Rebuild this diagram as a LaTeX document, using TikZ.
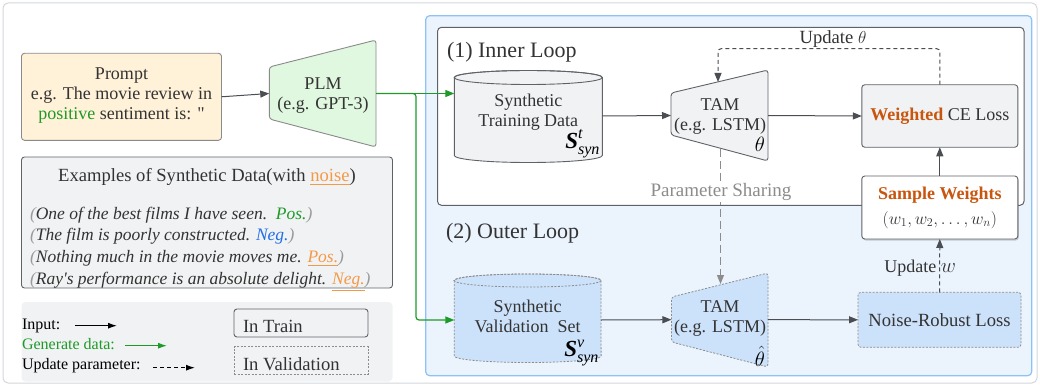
\documentclass[tikz,border=0pt]{standalone}
\usepackage{amsmath}
\usepackage{fontspec}
\setmainfont{Liberation Serif}
\newfontfamily\nomap{Liberation Serif}
\usetikzlibrary{arrows.meta,shadows}

\definecolor{txt}{HTML}{333333}
\definecolor{linegray}{HTML}{4A4D52}
\definecolor{boxborder}{HTML}{5F6368}
\definecolor{promptfill}{HTML}{FFF2D9}
\definecolor{promptborder}{HTML}{8A8A8A}
\definecolor{plmfill}{HTML}{E0F7E0}
\definecolor{grayfill}{HTML}{F1F2F4}
\definecolor{outerborder}{HTML}{D3D7DC}
\definecolor{blueframe}{HTML}{8DC2F6}
\definecolor{bluefill}{HTML}{EBF3FD}
\definecolor{valfill}{HTML}{CCE1FA}
\definecolor{valborder}{HTML}{8C8C8C}
\definecolor{gcol}{HTML}{1E9A28}
\definecolor{ocolD}{HTML}{C9560F}
\definecolor{ocolL}{HTML}{F39A48}
\definecolor{bcol}{HTML}{1F6FE5}
\definecolor{pgray}{HTML}{8C8C8C}
\definecolor{pargray}{HTML}{9A9A9A}

\newcommand{\synset}[1]{$\textbf{\textit{S}}^{\textit{#1}}_{\textit{syn}}$}

\begin{document}
\begin{tikzpicture}[x=1pt,y=-1pt,
  every node/.style={text=txt, inner sep=0pt, outer sep=0pt},
  f18/.style={font=\fontsize{18}{20}\selectfont},
  f16/.style={font=\fontsize{16}{18}\selectfont},
  f21/.style={font=\fontsize{22}{24}\selectfont},
  fit17/.style={font=\fontsize{17.5}{20}\selectfont\itshape},
  solidbox/.style={draw=boxborder, line width=0.9pt, rounded corners=3pt, fill=grayfill},
  valbox/.style={draw=valborder, line width=0.8pt, dash pattern=on 2pt off 1.5pt, rounded corners=3pt, fill=valfill},
  conn/.style={draw=linegray, line width=1pt, -{Triangle[length=9pt,width=7pt]}},
  gconn/.style={draw=gcol, line width=1.2pt, rounded corners=3pt, -{Triangle[length=9pt,width=7pt]}},
  upd/.style={draw=linegray, line width=1pt, dash pattern=on 4pt off 3pt, rounded corners=3pt, -{Triangle[length=9pt,width=7pt]}},
  psh/.style={draw=pgray, line width=1pt, dash pattern=on 8pt off 4pt, -{Triangle[length=9pt,width=7pt]}},
  legarr/.style={draw=black, line width=1.1pt, -{Latex[length=9pt,width=6pt]}},
]
\useasboundingbox (0,0) rectangle (1040,385);

% outer frame
\node[draw=outerborder, line width=1pt, rounded corners=5pt, minimum width=1034, minimum height=380, anchor=north west] (frame) at (3,3) {};

% blue outer loop region
\node[draw=blueframe, fill=bluefill, line width=1.2pt, rounded corners=4pt, minimum width=606, minimum height=360, anchor=north west] (outer) at (425.7,15.7) {};
% inner loop box
\node[draw=boxborder, fill=white, line width=1pt, rounded corners=4pt, minimum width=586.5, minimum height=178, anchor=north west] (inner) at (437.5,27.3) {};
\node[f21, anchor=base west] (innerlbl) at (447,57.3) {(1) Inner Loop};
\node[f21, anchor=base west] (outerlbl) at (446,238.3) {(2) Outer Loop};

% prompt
\node[draw=promptborder, fill=promptfill, line width=0.9pt, rounded corners=3pt, minimum width=200, minimum height=87, anchor=north west] (prompt) at (21.5,53.3) {};
\node[f18, align=center] (prompttxt) at (121.5,96) {Prompt\\e.g. The movie review in\\\textcolor{gcol}{positive} sentiment is: {\nomap "}};

% PLM
\filldraw[draw=promptborder, fill=plmfill, line width=0.9pt, rounded corners=3pt] (269.3,67) -- (376,40) -- (376,147) -- (269.3,119) -- cycle;
\node[minimum width=106.7, minimum height=107] (plm) at (322.65,93.5) {};
\node[f18, align=center] (plmtxt) at (323,96) {PLM\\(e.g. GPT-3)};

% examples box
\node[solidbox, minimum width=371, minimum height=131, anchor=north west] (examples) at (21.5,157) {};
\node[font=\fontsize{18.6}{20}\selectfont, anchor=base] (extitle) at (207,181.7) {Examples of Synthetic Data(with \textcolor{ocolL}{\underline{noise}})};
\node[fit17, anchor=base west] (ex1) at (30,219) {\textcolor{pargray}{(}One of the best films I have seen.~~\textcolor{gcol}{Pos.}\textcolor{pargray}{)}};
\node[fit17, anchor=base west] (ex2) at (30,240.7) {\textcolor{pargray}{(}The film is poorly constructed. \textcolor{bcol}{Neg.}\textcolor{pargray}{)}};
\node[fit17, anchor=base west] (ex3) at (30,262.4) {\textcolor{pargray}{(}Nothing much in the movie moves me. \textcolor{ocolL}{\underline{Pos.}}\textcolor{pargray}{)}};
\node[fit17, anchor=base west] (ex4) at (30,284.1) {\textcolor{pargray}{(}Ray{\nomap\itshape '}s performance is an absolute delight. \textcolor{ocolL}{\underline{Neg.}}\textcolor{pargray}{)}};

% legend
\node[fill=grayfill, rounded corners=4pt, minimum width=371, minimum height=79.5, anchor=north west] (legend) at (21.5,302) {};
\node[f16, anchor=base west, text=black] (linput) at (22,329) {Input:};
\node[f16, anchor=base west, text=gcol] (lgen) at (22,349) {Generate data:};
\node[f16, anchor=base west, text=black] (lupd) at (22,369.5) {Update parameter:};
\coordinate (la1) at (75,325.7); \coordinate (la2) at (117,325.7);
\coordinate (lb1) at (125,345.7); \coordinate (lb2) at (167,345.7);
\coordinate (lc1) at (153,367.7); \coordinate (lc2) at (195,367.7);
\draw[legarr] (la1) -- (la2);
\draw[legarr, draw=gcol] (lb1) -- (lb2);
\draw[legarr, dash pattern=on 4pt off 3pt] (lc1) -- (lc2);
\node[draw=boxborder, line width=0.9pt, rounded corners=3pt, minimum width=134, minimum height=28, anchor=north west] (intrain) at (234,309) {};
\node[font=\fontsize{18.6}{20}\selectfont, anchor=base west] (intraintxt) at (243,332.7) {In Train};
\node[draw=valborder, line width=0.8pt, dash pattern=on 2pt off 1.5pt, minimum width=134, minimum height=27.5, anchor=north west] (inval) at (234,346.7) {};
\node[font=\fontsize{18.6}{20}\selectfont, anchor=base west] (invaltxt) at (243,370) {In Validation};

% cylinder 1 : synthetic training data
\filldraw[draw=boxborder, fill=grayfill, line width=0.9pt] (454.3,77.5) -- (454.3,155.5) arc[start angle=180,end angle=0,x radius=74,y radius=7] -- (602.3,77.5) arc[start angle=0,end angle=-180,x radius=74,y radius=7] -- cycle;
\draw[draw=boxborder, line width=0.9pt] (528.3,77.5) ellipse[x radius=74, y radius=7];
\node[minimum width=148, minimum height=92] (train) at (528.3,116) {};
\node[f18, align=center] (traintxt) at (528.3,112) {Synthetic\\Training Data};
\node[anchor=base east, font=\fontsize{23}{25}\selectfont, text=black] (strain) at (600,148) {\synset{t}};

% cylinder 2 : synthetic validation set
\filldraw[draw=valborder, fill=valfill, line width=0.8pt, dash pattern=on 2pt off 1.5pt] (454.3,280.5) -- (454.3,356) arc[start angle=180,end angle=0,x radius=73.4,y radius=6.5] -- (601,280.5) arc[start angle=0,end angle=-180,x radius=73.4,y radius=6.5] -- cycle;
\draw[draw=valborder, line width=0.8pt, dash pattern=on 2pt off 1.5pt] (527.7,280.5) ellipse[x radius=73.4, y radius=6.5];
\node[minimum width=146.7, minimum height=88] (val) at (527.7,320) {};
\node[f18, align=center] (valtxt) at (527.7,316.5) {Synthetic\\Validation~~Set};
\node[anchor=base east, font=\fontsize{23}{25}\selectfont, text=black] (sval) at (599,356.7) {\synset{v}};

% TAM 1
\filldraw[draw=boxborder, fill=grayfill, line width=0.9pt, rounded corners=3pt] (671,93) -- (768,70) -- (768,161) -- (671,135) -- cycle;
\node[minimum width=97, minimum height=91] (tam) at (719.5,115.5) {};
\node[f18, align=center] (tamtxt) at (720,117) {TAM\\(e.g. LSTM)};
\node[anchor=base east, font=\fontsize{20.7}{22}\selectfont, text=black] (theta) at (765,151.5) {$\theta$};
\coordinate (tamtop) at (718,82);
\coordinate (tambot) at (720.5,149);

% TAM 2
\filldraw[draw=valborder, fill=valfill, line width=0.8pt, dash pattern=on 2pt off 1.5pt, rounded corners=3pt] (671.5,297) -- (768,273) -- (768,367) -- (671.5,342) -- cycle;
\node[minimum width=96.5, minimum height=94] (tam2) at (719.7,319.7) {};
\node[f18, align=center] (tam2txt) at (720,318) {TAM\\(e.g. LSTM)};
\node[anchor=base east, font=\fontsize{20}{22}\selectfont, text=black] (thetahat) at (765,366) {$\hat{\theta}$};
\coordinate (tam2top) at (720.5,284);

% losses and weights
\node[solidbox, minimum width=156, minimum height=62.5, f18] (ce) at (939.8,116) {\textcolor{ocolD}{\textbf{Weighted}} CE Loss};
\node[draw=boxborder, fill=white, line width=0.9pt, rounded corners=3pt, minimum width=156, minimum height=63, drop shadow={opacity=0.35, shadow xshift=1pt, shadow yshift=-1.5pt}, f18, align=center] (sw) at (939.8,207.5) {\textcolor{ocolD}{\textbf{Sample Weights}}\\[5pt]$(w_1, w_2, \ldots, w_n)$};
\node[valbox, minimum width=163, minimum height=55, font=\fontsize{18.6}{20}\selectfont] (nrl) at (939.5,319.8) {Noise-Robust Loss};

% parameter sharing
\draw[psh] (tambot) -- (tam2top);
\node[font=\fontsize{19}{21}\selectfont, text=pgray, fill=white, inner sep=1pt, anchor=base] (pshare) at (721,196.7) {Parameter Sharing};

% connectors
\draw[conn] (prompt.east) -- (plm.west);
\draw[gconn] (plm.east) -- (train.west |- plm.east);
\draw[gconn] (plm.east) -- ++(40,0) |- (val.west);
\draw[conn] (train.east) -- (tam.west);
\draw[conn] (tam.east) -- (ce.west);
\draw[conn] (sw.north) -- (ce.south);
\draw[upd] (ce.north) -- ++(0,-36) -| (tamtop);
\node[font=\fontsize{18.6}{20}\selectfont, anchor=base] (updtheta) at (833,44) {Update $\theta$};
\draw[conn] (val.east) -- (tam2.west);
\draw[conn] (tam2.east) -- (nrl.west);
\draw[upd] (nrl.north) -- (sw.south);
\node[f18, anchor=base east] (updw) at (956,272.3) {Update \fontsize{22}{24}\selectfont$w$};
\end{tikzpicture}
\end{document}
